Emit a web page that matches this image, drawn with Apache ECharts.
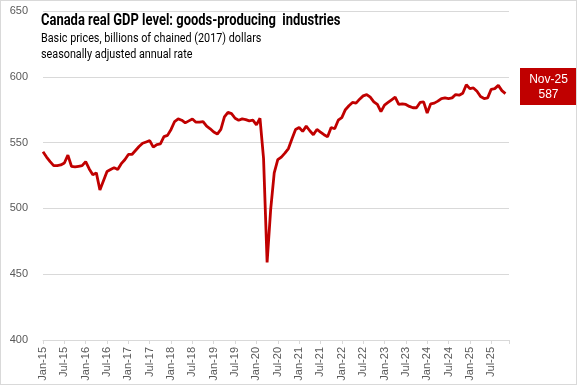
<!DOCTYPE html>
<html>
<head>
<meta charset="utf-8">
<script src="https://cdn.jsdelivr.net/npm/echarts@6/dist/echarts.min.js"></script>
<style>
html,body{margin:0;padding:0;background:#fff;}
#c{width:577px;height:385px;box-sizing:border-box;border:1px solid #d9d9d9;}
</style>
</head>
<body>
<div id="c"></div>
<script>
// Month labels Jan-15 .. Nov-25 (plus an empty trailing slot for the axis end)
const monthNames = ['Jan','Feb','Mar','Apr','May','Jun','Jul','Aug','Sep','Oct','Nov','Dec'];
const years = ['15','16','17','18','19','20','21','22','23','24','25'];
const categories = [];
years.forEach(y => monthNames.forEach(m => categories.push(m + '-' + y)));
categories.splice(131); // through Nov-25

// Goods-producing GDP, billions of chained 2017 dollars
const gdp2015 = [543, 539, 535.5, 532.5, 532.5, 533, 534.5, 540.5, 532, 531.5, 532, 532.5];
const gdp2016 = [535.5, 530, 525.5, 527, 514, 521, 528, 529.5, 531, 529.5, 534, 537];
const gdp2017 = [541, 541, 544, 547, 549.5, 550.5, 551.5, 546.5, 548.5, 549, 554.5, 555.5];
const gdp2018 = [560, 566, 568, 567, 565, 566.5, 568, 565.5, 565.5, 566, 562.5, 560.5];
const gdp2019 = [558, 556.5, 560, 569.5, 573, 572, 568.5, 567, 568, 567.5, 566.5, 567];
const gdp2020 = [563.5, 568.5, 538, 459, 499, 527, 537, 539, 542, 545.5, 553, 560];
const gdp2021 = [561.5, 558.5, 562.5, 559, 556, 560, 558, 556, 554.5, 561.5, 560.5, 567];
const gdp2022 = [569, 575, 578, 580.5, 580, 583, 585.5, 586.5, 584.5, 581, 579, 573.5];
const gdp2023 = [578.5, 580.5, 582.5, 584.5, 579, 579.5, 579, 577.5, 576.5, 576.5, 580.5, 581];
const gdp2024 = [572.5, 579.5, 580, 581.5, 583.5, 584, 583.5, 584, 586.5, 586, 587.5, 594];
const gdp2025 = [591, 591.5, 589, 585, 583.5, 584, 590.5, 591, 593.5, 589.5, 587.2];

const values = [].concat(gdp2015, gdp2016, gdp2017, gdp2018, gdp2019, gdp2020,
                         gdp2021, gdp2022, gdp2023, gdp2024, gdp2025);

const axisCats = categories.concat(['']);
const lastCat = categories[categories.length - 1];
const lastVal = Math.round(values[values.length - 1]);

const titleText = 'Canada real GDP level: goods-producing  industries';
const subText1 = 'Basic prices, billions of chained (2017) dollars';
const subText2 = 'seasonally adjusted annual rate';

const chart = echarts.init(document.getElementById('c'));
chart.setOption({
  animation: false,
  grid: {left: 42, right: 67, top: 10, bottom: 44, containLabel: false},
  xAxis: {
    type: 'category',
    data: axisCats,
    boundaryGap: false,
    axisLine: {lineStyle: {color: '#d9d9d9', width: 1}},
    axisTick: {
      length: 4,
      lineStyle: {color: '#d9d9d9'},
      interval: (i) => i % 6 === 0 || i === axisCats.length - 1
    },
    axisLabel: {
      rotate: 90,
      interval: (i) => i % 6 === 0 && i < categories.length,
      color: '#595959',
      fontSize: 11,
      fontFamily: 'Liberation Sans, Arial, sans-serif',
      margin: 7
    },
    splitLine: {show: false}
  },
  yAxis: {
    type: 'value',
    min: 400, max: 650, interval: 50,
    axisLine: {show: false},
    axisTick: {show: false},
    axisLabel: {color: '#595959', fontSize: 11, fontFamily: 'Liberation Sans, Arial, sans-serif', margin: 15},
    splitLine: {lineStyle: {color: '#d9d9d9', width: 1}}
  },
  series: [{
    type: 'line',
    data: values,
    symbol: 'none',
    lineStyle: {color: '#c00000', width: 2.8},
    z: 3
  }],
  graphic: [
    {type: 'rect', x: 39, y: 12, shape: {width: 310, height: 50}, style: {fill: '#ffffff'}, z: 10},
    {type: 'text', x: 40, y: 12, scaleX: 0.81, z: 11,
     style: {text: titleText, font: 'bold 16px Roboto, sans-serif', fill: '#000000', align: 'left', verticalAlign: 'top'}},
    {type: 'text', x: 40, y: 32, scaleX: 0.9, z: 11,
     style: {text: subText1, font: '12px Roboto, sans-serif', fill: '#000000', align: 'left', verticalAlign: 'top'}},
    {type: 'text', x: 40, y: 48, scaleX: 0.9, z: 11,
     style: {text: subText2, font: '12px Roboto, sans-serif', fill: '#000000', align: 'left', verticalAlign: 'top'}},
    {type: 'rect', x: 519, y: 67, shape: {width: 57, height: 37}, style: {fill: '#c00000'}, z: 10},
    {type: 'text', x: 547.5, y: 86, z: 11,
     style: {text: lastCat + '\n' + lastVal, font: '12px "Liberation Sans", Arial, sans-serif', fill: '#ffffff',
             align: 'center', verticalAlign: 'middle', lineHeight: 15}}
  ]
});
</script>
</body>
</html>
